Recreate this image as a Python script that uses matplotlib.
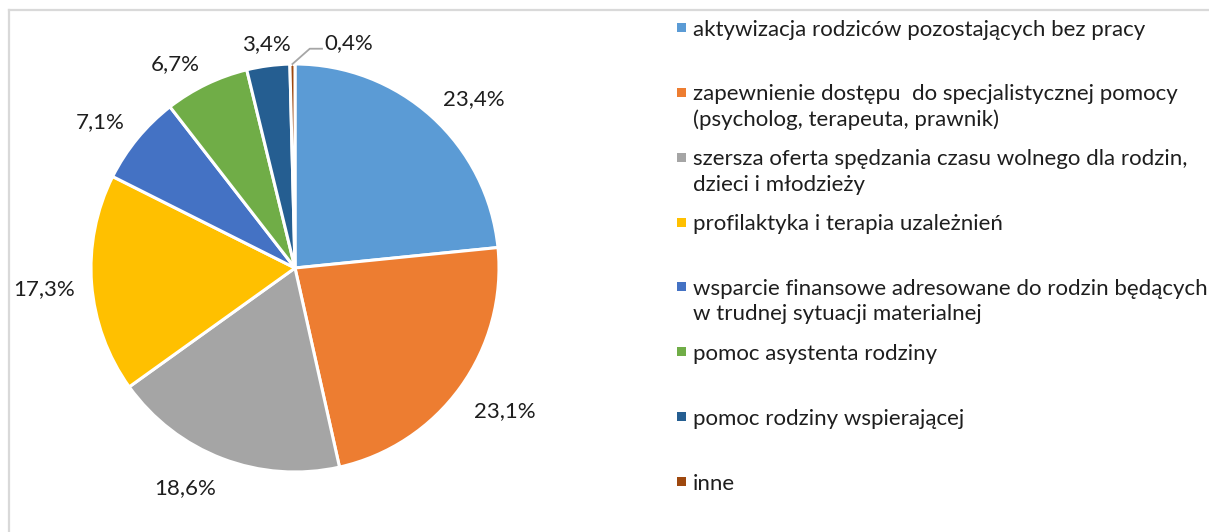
import numpy as np
import matplotlib
matplotlib.use("Agg")
import matplotlib.pyplot as plt
from matplotlib.lines import Line2D
from matplotlib.patches import Rectangle

categories = [
    "aktywizacja rodziców pozostających bez pracy",
    "zapewnienie dostępu  do specjalistycznej pomocy\n(psycholog, terapeuta, prawnik)",
    "szersza oferta spędzania czasu wolnego dla rodzin,\ndzieci i młodzieży",
    "profilaktyka i terapia uzależnień",
    "wsparcie finansowe adresowane do rodzin będących\nw trudnej sytuacji materialnej",
    "pomoc asystenta rodziny",
    "pomoc rodziny wspierającej",
    "inne",
]
values = [23.4, 23.1, 18.6, 17.3, 7.1, 6.7, 3.4, 0.4]
colors = ["#5B9BD5", "#ED7D31", "#A5A5A5", "#FFC000", "#4472C4", "#70AD47", "#255E91", "#9E480E"]

W, H = 1209, 532
plt.rcParams['font.family'] = ['Lato', 'DejaVu Sans']
TXT = '#1e1e1e'
FS = 16

fig = plt.figure(figsize=(W / 100, H / 100), dpi=100)
fig.patch.set_facecolor('white')

# light border (top and left)
fig.add_artist(Line2D([9 / W, 1.0], [1 - 10 / H, 1 - 10 / H], color='#d9d9d9', lw=1.6, transform=fig.transFigure))
fig.add_artist(Line2D([9 / W, 9 / W], [0, 1 - 10 / H], color='#d9d9d9', lw=1.6, transform=fig.transFigure))

cx, cy, R = 295, 268, 204
ax = fig.add_axes([(cx - R) / W, (H - cy - R) / H, 2 * R / W, 2 * R / H])
wedges, _ = ax.pie(values, colors=colors, startangle=90, counterclock=False,
                   wedgeprops=dict(edgecolor='white', linewidth=2.2))
ax.set_xlim(-1, 1)
ax.set_ylim(-1, 1)
ax.set_aspect('equal')
ax.axis('off')

def fmt(v):
    return f"{v:.1f}".replace('.', ',') + '%'

for i, (w, v) in enumerate(zip(wedges, values)):
    ang = np.deg2rad((w.theta1 + w.theta2) / 2)
    c, s = np.cos(ang), np.sin(ang)
    if i == len(values) - 1:
        x0, y0 = c, s
        ex, ey = x0 + 0.085, y0 + 0.075
        fx, fy = ex + 0.06, ey
        ax.plot([x0, ex, fx], [y0, ey, fy], color='#a6a6a6', lw=1.3, clip_on=False)
        ax.text(fx + 0.01, fy + 0.03, fmt(v), ha='left', va='center', fontsize=FS, color=TXT, clip_on=False)
        continue
    r = 1.08
    ha = 'left' if c > 0.15 else ('right' if c < -0.15 else 'center')
    va = 'bottom' if s > 0.15 else ('top' if s < -0.15 else 'center')
    ax.text(r * c, r * s - 0.02, fmt(v), ha=ha, va=va, fontsize=FS, color=TXT, clip_on=False)

# legend (manual)
sq_x, sq = 677, 9
tx = 693
y0, step, lstep = 27.5, 64.86, 25.5
for i, (lab, col) in enumerate(zip(categories, colors)):
    yc = y0 + step * i
    fig.add_artist(Rectangle((sq_x / W, 1 - (yc + sq / 2) / H), sq / W, sq / H,
                             facecolor=col, edgecolor='none', transform=fig.transFigure))
    for j, line in enumerate(lab.split('\n')):
        fig.text(tx / W, 1 - (yc + 2 + j * lstep) / H, line, ha='left', va='center',
                 fontsize=FS, color=TXT)

fig.savefig('out.png', dpi=100, facecolor='white')
